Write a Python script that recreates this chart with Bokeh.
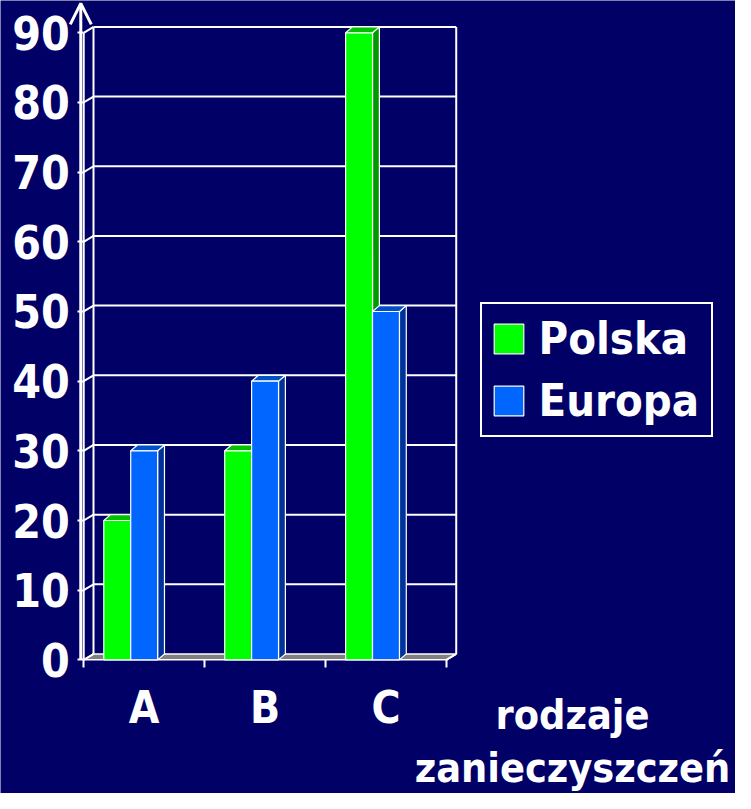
from bokeh.plotting import figure
from bokeh.models import (Range1d, LinearAxis, FixedTicker, Legend, LegendItem,
                          Label, Arrow, OpenHead)
from bokeh.embed import file_html
from bokeh.resources import INLINE

# ---- data ----
categories = ["A", "B", "C"]
series_names = ["Polska", "Europa"]
polska = [20, 30, 90]
europa = [30, 40, 50]
y_ticks = [0, 10, 20, 30, 40, 50, 60, 70, 80, 90]
x_title = ["rodzaje", "zanieczyszczeń"]

# ---- style ----
BG = "#000066"
front_colors = ["#00ff00", "#0066ff"]
top_colors = ["#00c000", "#0050cc"]
side_colors = ["#009900", "#003399"]
FONT = "DejaVu Sans Condensed, DejaVu Sans"

W, H = 735, 793
S = 0.979                   # overall scale
X0 = 85 * S                 # pixel x of value-axis (category 0 edge)
Y0 = 673.5 * S              # pixel y (from top) of value 0
UX = 123.5 * S              # px per category
UY = 7.117 * S              # px per value unit
n = len(categories)
top_val = max(y_ticks)

wall_dx, wall_dy = 10 / 123.5, 6 / 7.117
bar_dx, bar_dy = 7 / 123.5, 6 / 7.117
bar_w = 27.5 / 123.5
group_off = 20.5 / 123.5

p = figure(width=W, height=H,
           x_range=Range1d(-X0 / UX, (W - X0) / UX),
           y_range=Range1d((Y0 - H) / UY, Y0 / UY),
           output_backend="svg", toolbar_location=None, x_axis_type=None, y_axis_type=None,
           min_border_left=0, min_border_bottom=0, min_border_top=0, min_border_right=0,
           background_fill_color=BG, border_fill_color=BG, outline_line_color=None)

# floor
p.patch([0, n, n + wall_dx, wall_dx], [0, 0, wall_dy, wall_dy],
        fill_color="#808080", line_color="white", line_width=1.5)

# back wall grid + edges, side wall diagonals
gx, gy = [], []
for v in y_ticks[1:]:
    gx.append([wall_dx, n + wall_dx]); gy.append([v + wall_dy, v + wall_dy])
for v in y_ticks:
    gx.append([0, wall_dx]); gy.append([v, v + wall_dy])
gx.append([wall_dx, wall_dx]); gy.append([wall_dy, top_val + wall_dy])
gx.append([n + wall_dx, n + wall_dx]); gy.append([wall_dy, top_val + wall_dy])
gx.append([n, n + wall_dx]); gy.append([0, wall_dy])
gx.append([0, 0]); gy.append([0, top_val])
p.multi_line(gx, gy, line_color="white", line_width=2)

# bars
values = [polska, europa]
side_xs, side_ys, side_c = [], [], []
top_xs, top_ys, top_c = [], [], []
fronts = []
for s, vals in enumerate(values):
    l, r, t = [], [], []
    for i, v in enumerate(vals):
        x0 = i + group_off + s * bar_w
        x1 = x0 + bar_w
        side_xs.append([x1, x1 + bar_dx, x1 + bar_dx, x1])
        side_ys.append([0, bar_dy, v + bar_dy, v])
        side_c.append(side_colors[s])
        top_xs.append([x0, x1, x1 + bar_dx, x0 + bar_dx])
        top_ys.append([v, v, v + bar_dy, v + bar_dy])
        top_c.append(top_colors[s])
        l.append(x0); r.append(x1); t.append(v)
    fronts.append((l, r, t))

order = sorted(range(len(side_xs)), key=lambda k: (k % n, k // n))
p.patches([side_xs[k] for k in order], [side_ys[k] for k in order],
          fill_color=[side_c[k] for k in order], line_color="white", line_width=1.2)
p.patches([top_xs[k] for k in order], [top_ys[k] for k in order],
          fill_color=[top_c[k] for k in order], line_color="white", line_width=1.2)
front_renderers = []
for s, (l, r, t) in enumerate(fronts):
    fr = p.quad(left=l, right=r, bottom=[0] * n, top=t, fill_color=front_colors[s],
                line_color="white", line_width=1.2)
    front_renderers.append(fr)

# y axis (drawn at x = 0 inside the frame)
yaxis = LinearAxis(ticker=FixedTicker(ticks=y_ticks, minor_ticks=[]), fixed_location=0,
                   bounds=(0, top_val),
                   axis_line_color=None,
                   major_tick_line_color="white", major_tick_line_width=2,
                   major_tick_out=6, major_tick_in=0, minor_tick_line_color=None,
                   major_label_text_font=FONT, major_label_text_font_style="bold",
                   major_label_text_font_size="46px", major_label_text_color="white",
                   major_label_standoff=8)
p.add_layout(yaxis, "left")

# x axis (drawn at y = 0)
xaxis = LinearAxis(ticker=FixedTicker(ticks=[i + 0.5 for i in range(n)],
                                      minor_ticks=list(range(n + 1))),
                   fixed_location=0,
                   major_label_overrides={i + 0.5: c for i, c in enumerate(categories)},
                   axis_line_color=None, major_tick_line_color=None,
                   major_tick_out=0, major_tick_in=0,
                   minor_tick_line_color="white", minor_tick_line_width=2,
                   minor_tick_out=8, minor_tick_in=0,
                   major_label_text_font=FONT, major_label_text_font_style="bold",
                   major_label_text_font_size="44px", major_label_text_color="white",
                   major_label_standoff=14)
p.add_layout(xaxis, "below")

# value axis line with arrow
tip = (673.5 - 3) / 7.117
p.add_layout(Arrow(end=OpenHead(size=21, line_color="white", line_width=3),
                   x_start=-3 / 123.5, y_start=0, x_end=-3 / 123.5, y_end=tip,
                   line_color="white", line_width=3))

# legend
legend = Legend(items=[LegendItem(label=series_names[s], renderers=[front_renderers[s]])
                       for s in range(len(series_names))],
                location=(479.5, H - 437), margin=0, padding=8, spacing=9,
                glyph_width=37, glyph_height=37, label_height=52, label_width=164,
                label_standoff=12,
                label_text_font=FONT, label_text_font_style="bold",
                label_text_font_size="45px", label_text_color="white",
                border_line_color="white", border_line_width=2, border_line_alpha=1,
                background_fill_color=BG, background_fill_alpha=1)
p.add_layout(legend)

# axis title
for k, txt in enumerate(x_title):
    p.add_layout(Label(x=572, y=H - (714 + 53 * k), x_units="screen", y_units="screen",
                       text=txt, text_align="center", text_baseline="alphabetic",
                       text_font=FONT, text_font_style="bold", text_font_size="41px",
                       text_color="white"))

open("out.html", "w").write(file_html(p, INLINE))
